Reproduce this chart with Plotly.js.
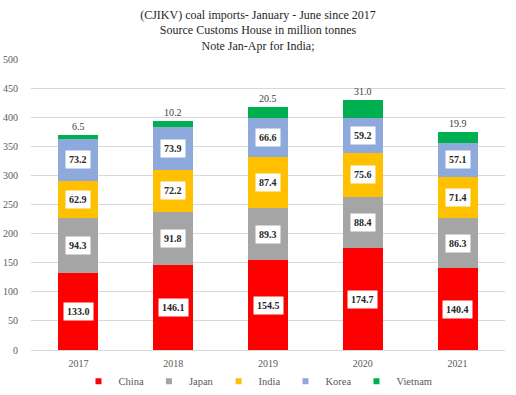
<!DOCTYPE html>
<html><head><meta charset="utf-8">
<script src="https://cdn.plot.ly/plotly-3.0.1.min.js"></script>
<style>body{margin:0;background:#fff}#c{width:516px;height:395px}</style>
</head><body><div id="c"></div>
<script>
const years = ['2017','2018','2019','2020','2021'];
const china = [133.0,146.1,154.5,174.7,140.4];
const japan = [94.3,91.8,89.3,88.4,86.3];
const india = [62.9,72.2,87.4,75.6,71.4];
const korea = [73.2,73.9,66.6,59.2,57.1];
const vietnam = [6.5,10.2,20.5,31.0,19.9];
const yTicks = [0,50,100,150,200,250,300,350,400,450,500];

const series = [
  {name:'China', v:china, color:'#FF0000'},
  {name:'Japan', v:japan, color:'#A5A5A5'},
  {name:'India', v:india, color:'#FFC000'},
  {name:'Korea', v:korea, color:'#8EA9DB'},
  {name:'Vietnam', v:vietnam, color:'#00B050'}
];
const font = 'Liberation Serif, Times New Roman, serif';
const traces = series.map(s => ({
  type:'bar', x:years, y:s.v, name:s.name, legendgroup:s.name, showlegend:false,
  marker:{color:s.color, line:{width:0}}, hoverinfo:'skip'
}));
// legend-only entries with small square swatches
series.forEach(s => traces.push({
  type:'scatter', mode:'markers', x:[null], y:[null], name:s.name, legendgroup:s.name,
  marker:{symbol:'square', size:6, color:s.color}, hoverinfo:'skip'
}));
const annotations = [];
const base = years.map(()=>0);
series.forEach((s,si)=>{
  s.v.forEach((val,i)=>{
    if (si < 4) {
      annotations.push({x:i, y:base[i]+val/2, text:'<b>'+val.toFixed(1)+'</b>',
        showarrow:false, bgcolor:'#FFFFFF', borderpad:3,
        font:{family:font, size:10, color:'#262626'}});
    } else {
      annotations.push({x:i, y:base[i]+val, text:val.toFixed(1), yanchor:'bottom', yshift:1,
        showarrow:false, font:{family:font, size:10, color:'#404040'}});
    }
    base[i] += val;
  });
});
const layout = {
  width:516, height:395, barmode:'stack', bargap:0.58,
  paper_bgcolor:'#fff', plot_bgcolor:'#fff',
  margin:{l:31, r:11, t:59, b:45, autoexpand:false},
  title:{text:'(CJIKV) coal imports- January - June since 2017<br>Source Customs House in million tonnes<br>Note Jan-Apr for India;',
    font:{family:font, size:12, color:'#262626'}, x:0.5, xanchor:'center', y:0.953, yanchor:'top', yref:'container'},
  xaxis:{type:'category', range:[-0.5,4.5], tickfont:{family:font, size:10, color:'#595959'}, showline:false, ticks:'', showgrid:false, automargin:false, ticklabelstandoff:6},
  yaxis:{range:[0,500], tickvals:yTicks, tickfont:{family:font, size:10, color:'#595959'}, automargin:false,
    gridcolor:'#D9D9D9', gridwidth:1, zeroline:true, zerolinecolor:'#D9D9D9', zerolinewidth:1, ticks:'', showline:false, ticklabelstandoff:12},
  legend:{orientation:'h', traceorder:'normal', x:0.5, xanchor:'center', xref:'container', y:0.035, yanchor:'middle', yref:'container',
    font:{family:font, size:10.5, color:'#595959'}, itemwidth:30, tracegroupgap:0},
  showlegend:true,
  annotations:annotations
};
Plotly.newPlot('c', traces, layout, {displayModeBar:false, staticPlot:true});
</script></body></html>
